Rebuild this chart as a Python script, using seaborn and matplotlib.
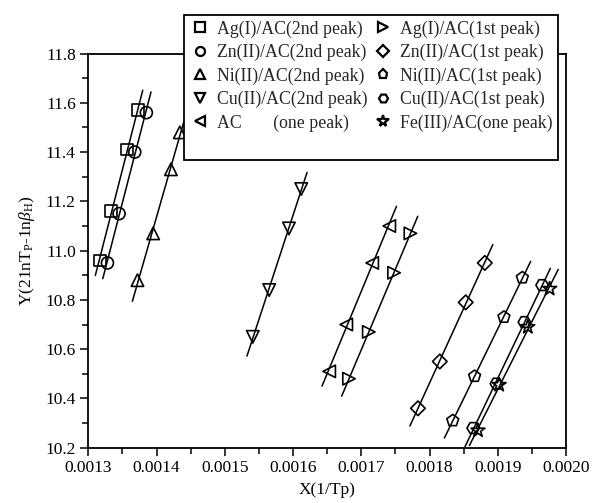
import numpy as np
import matplotlib
matplotlib.use("Agg")
import matplotlib.pyplot as plt
from matplotlib.lines import Line2D
import seaborn as sns

# ---- data ----
ag2_x = [0.001317, 0.001333, 0.001357, 0.001373]
ag2_y = [10.96, 11.16, 11.41, 11.57]
zn2_x = [0.001328, 0.001345, 0.001368, 0.001385]
zn2_y = [10.95, 11.15, 11.40, 11.56]
ni2_x = [0.001372, 0.001395, 0.001421, 0.001434]
ni2_y = [10.88, 11.07, 11.33, 11.48]
cu2_x = [0.001541, 0.001565, 0.001594, 0.001612]
cu2_y = [10.65, 10.84, 11.09, 11.25]
ac_x = [0.001653, 0.001678, 0.001716, 0.001741]
ac_y = [10.51, 10.70, 10.95, 11.10]
ag1_x = [0.001682, 0.001711, 0.001748, 0.001772]
ag1_y = [10.48, 10.67, 10.91, 11.07]
zn1_x = [0.001783, 0.001815, 0.001853, 0.001881]
zn1_y = [10.36, 10.55, 10.79, 10.95]
ni1_x = [0.001834, 0.001866, 0.001909, 0.001936]
ni1_y = [10.31, 10.49, 10.73, 10.89]
cu1_x = [0.001864, 0.001898, 0.001939, 0.001965]
cu1_y = [10.28, 10.46, 10.71, 10.86]
fe_x = [0.001871, 0.001902, 0.001944, 0.001976]
fe_y = [10.27, 10.455, 10.69, 10.845]

labels = ["Ag(I)/AC(2nd peak)", "Zn(II)/AC(2nd peak)", "Ni(II)/AC(2nd peak)",
          "Cu(II)/AC(2nd peak)", "AC       (one peak)",
          "Ag(I)/AC(1st peak)", "Zn(II)/AC(1st peak)", "Ni(II)/AC(1st peak)",
          "Cu(II)/AC(1st peak)", "Fe(III)/AC(one peak)"]
xs = [ag2_x, zn2_x, ni2_x, cu2_x, ac_x, ag1_x, zn1_x, ni1_x, cu1_x, fe_x]
ys = [ag2_y, zn2_y, ni2_y, cu2_y, ac_y, ag1_y, zn1_y, ni1_y, cu1_y, fe_y]
markers = ["s", "o", "^", "v", "<", ">", "D", "p", "H", "*"]
sizes = [70, 75, 80, 80, 80, 80, 55, 80, 80, 110]

x_ticks = [0.0013, 0.0014, 0.0015, 0.0016, 0.0017, 0.0018, 0.0019, 0.0020]
y_ticks = [10.2, 10.4, 10.6, 10.8, 11.0, 11.2, 11.4, 11.6, 11.8]

sns.set_theme(style="ticks")
plt.rcParams["font.family"] = ["Liberation Serif", "DejaVu Serif"]
plt.rcParams["mathtext.fontset"] = "custom"
plt.rcParams["mathtext.rm"] = "Liberation Serif"
plt.rcParams["mathtext.it"] = "Liberation Serif:italic"

FS = 12.5
LFS = 12.8
fig = plt.figure(figsize=(5.94, 5.03), dpi=100)
ax = fig.add_axes([0.1487, 0.1099, 0.8042, 0.7837])

for x, y, m, s in zip(xs, ys, markers, sizes):
    x = np.asarray(x); y = np.asarray(y)
    k, b = np.polyfit(x, y, 1)
    span = x.max() - x.min()
    lx = np.array([x.min() - 0.12 * span, x.max() + 0.12 * span])
    sns.lineplot(x=lx, y=k * lx + b, color="black", linewidth=1.1, ax=ax, zorder=2)
    sns.scatterplot(x=x, y=y, marker=m, s=s, facecolor="none", edgecolor="black",
                    linewidth=1.2, ax=ax, zorder=3)

ax.set_xlim(0.0013, 0.0020)
ax.set_ylim(10.2, 11.8)
ax.set_xticks(x_ticks)
ax.set_yticks(y_ticks)
ax.set_xticks(np.array(x_ticks[:-1]) + 0.00005, minor=True)
ax.set_yticks(np.array(y_ticks[:-1]) + 0.1, minor=True)
ax.set_xticklabels([f"{v:.4f}" for v in x_ticks], fontsize=FS)
ax.set_yticklabels([f"{v:.1f}" for v in y_ticks], fontsize=FS)
ax.tick_params(which="major", direction="out", length=6, width=1.1, color="black",
               top=False, right=False, pad=3, labelcolor="black")
ax.tick_params(which="minor", direction="out", length=4, width=1.1, color="black",
               top=False, right=False)
for sp in ax.spines.values():
    sp.set_visible(True)
    sp.set_color("black")
    sp.set_linewidth(1.3)
ax.set_facecolor("white")
ax.grid(False)

ax.set_xlabel("X(1/Tp)", fontsize=FS, color="black", labelpad=4)
ax.set_ylabel(r"Y(21nT$_\mathrm{P}$-1n$\beta_\mathrm{H}$)", fontsize=FS, color="black", labelpad=6)

handles = [Line2D([], [], marker=m, linestyle="none", markerfacecolor="none",
                  markeredgecolor="black", markeredgewidth=1.6,
                  markersize=(8.5 if m == "*" else 6.5))
           for m in markers]
blank = Line2D([], [], linestyle="none", marker=None)
h = handles[:5] + [blank] + handles[5:] + [blank]
lab = labels[:5] + [""] + labels[5:] + [""]
leg = ax.legend(h, lab, ncol=2, loc="upper left",
                bbox_to_anchor=(184 / 594, 1 - 15 / 503), bbox_transform=fig.transFigure,
                frameon=True, fancybox=False, edgecolor="black", framealpha=1,
                borderpad=0.3, handlelength=1.2, handletextpad=0.35,
                columnspacing=0.3, labelspacing=0.35, prop={"size": LFS}, borderaxespad=0)
leg.get_frame().set_linewidth(1.3)

fig.savefig("out.png", dpi=100, facecolor="white")
